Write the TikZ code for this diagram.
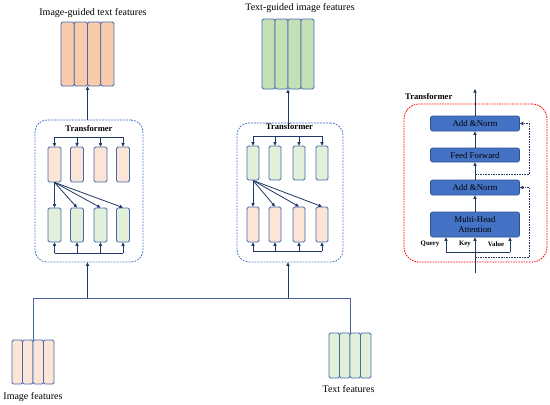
\documentclass[tikz,border=0pt]{standalone}
\usepackage{fontspec}
\setmainfont{Liberation Serif}
\usetikzlibrary{arrows.meta}
\definecolor{navy}{RGB}{32,56,100}
\definecolor{busc}{RGB}{70,95,150}
\definecolor{barline}{RGB}{70,105,175}
\definecolor{peachD}{HTML}{F8CBAD}
\definecolor{greenD}{HTML}{C5E0B4}
\definecolor{peachL}{HTML}{FBE5D6}
\definecolor{greenL}{HTML}{E2F0D9}
\definecolor{blk}{HTML}{4472C4}
\definecolor{blkline}{HTML}{2F528F}
\definecolor{tbox}{HTML}{4472C4}
\newcommand\ftitle{\fontsize{10}{12}\selectfont}
\newcommand\fblk{\fontsize{8.8}{10.5}\selectfont}
\newcommand\ftr{\fontsize{8.6}{10}\selectfont\bfseries}
\newcommand\fqkv{\fontsize{6.8}{8}\selectfont\bfseries}
\begin{document}
\begin{tikzpicture}[x=1pt,y=-1pt,
  bar/.style n args={2}{draw=barline, line width=0.8pt, rounded corners=1.5pt, inner sep=0pt, minimum width=#1, minimum height=#2},
  ln/.style={navy, line width=0.8pt},
  bus/.style={busc, line width=0.9pt},
  arr/.style={navy, line width=0.8pt, -{Triangle[length=3.5pt,width=3.2pt]}},
  darr/.style={navy, line width=0.8pt, dash pattern=on 1.6pt off 1pt, -{Triangle[length=3.5pt,width=3.2pt]}},
  tfbox/.style={draw=tbox, line width=0.8pt, dash pattern=on 1.8pt off 1.2pt, rounded corners=12pt, inner sep=0pt},
  redbox/.style={draw=red, line width=0.8pt, dash pattern=on 1.6pt off 1pt, rounded corners=15pt, inner sep=0pt},
  block/.style={fill=blk, draw=blkline, line width=0.6pt, rounded corners=2pt, minimum width=89pt, inner sep=0pt, font=\fblk, text=black, align=center},
  lab/.style={inner sep=0pt, font=\ftitle}
]
\useasboundingbox (0,0) rectangle (550,405);

% ---------- output features ----------
\node[lab] (tL) at (93,13) {Image-guided text features};
\node[lab] (tR) at (300,8) {Text-guided image features};
\foreach \i/\x in {1/67.6,2/80.9,3/94.1,4/107.4}
  \node[bar={13.25pt}{64pt}, fill=peachD] (oL\i) at (\x,54) {};
\foreach \i/\x in {1/268.5,2/281.5,3/294.5,4/307.5}
  \node[bar={13pt}{70pt}, fill=greenD] (oR\i) at (\x,54) {};

% ---------- left transformer ----------
\node[tfbox, minimum width=108pt, minimum height=142pt] (LT) at (89,191) {};
\node[inner sep=0pt, font=\ftr] (LTl) at (89,128.5) {Transformer};
\foreach \i/\x in {1/54.5,2/77,3/100.5,4/123}{
  \node[bar={13pt}{35pt}, fill=peachL] (lt\i) at (\x,164.5) {};
  \node[bar={13pt}{34pt}, fill=greenL] (lb\i) at (\x,225) {};
}
\coordinate (lbusT) at (87.5,137);
\coordinate (lbusB) at (87.5,253);
\coordinate (inL) at (87.5,298);
\draw[ln] (lt1.north |- lbusT) -- (lt4.north |- lbusT);
\foreach \i in {1,...,4} \draw[arr] (lt\i.north |- lbusT) -- (lt\i.north);
\draw[arr] (lbusT |- LT.north) -- (lbusT |- oL2.south);
\foreach \i in {1,...,4} \draw[arr] (lt1.south) -- (lb\i.north);
\draw[ln] (lb1.south |- lbusB) -- (lb4.south |- lbusB);
\foreach \i in {1,...,4} \draw[arr] (lb\i.south |- lbusB) -- (lb\i.south);
\draw[arr] (inL) -- (inL |- LT.south);

% ---------- right transformer ----------
\node[tfbox, minimum width=106pt, minimum height=139pt] (RTb) at (290,192.5) {};
\node[inner sep=0pt, font=\ftr] (RTl) at (289.5,127) {Transformer};
\foreach \i/\x in {1/253,2/275,3/299,4/322}{
  \node[bar={12pt}{34pt}, fill=greenL] (rt\i) at (\x,163) {};
  \node[bar={12pt}{35pt}, fill=peachL] (rb\i) at (\x,224.5) {};
}
\coordinate (rbusT) at (288,136);
\coordinate (rbusB) at (288,251);
\coordinate (inR) at (288,298);
\draw[ln] (rt1.north |- rbusT) -- (rt4.north |- rbusT);
\foreach \i in {1,...,4} \draw[arr] (rt\i.north |- rbusT) -- (rt\i.north);
\draw[arr] (rbusT |- RTb.north) -- (rbusT |- oR2.south);
\foreach \i in {1,...,4} \draw[arr] (rt1.south) -- (rb\i.north);
\draw[ln] (rb1.south |- rbusB) -- (rb4.south |- rbusB);
\foreach \i in {1,...,4} \draw[arr] (rb\i.south |- rbusB) -- (rb\i.south);
\draw[arr] (inR) -- (inR |- RTb.south);

% ---------- input features ----------
\foreach \i/\x in {1/17.25,2/27.75,3/38.25,4/48.75}
  \node[bar={10.5pt}{44pt}, fill=peachL] (im\i) at (\x,362) {};
\foreach \i/\x in {1/334.25,2/344.75,3/355.25,4/365.75}
  \node[bar={10.5pt}{45pt}, fill=greenL] (tx\i) at (\x,355.5) {};
\node[lab] (imt) at (33,397) {Image features};
\node[lab] (txt) at (348.5,389) {Text features};
\coordinate (busY) at (0,298);
\draw[bus] (im2.north east) -- (im2.north east |- busY) -- (tx2.north east |- busY) -- (tx2.north east);

% ---------- transformer detail ----------
\node[redbox, minimum width=143pt, minimum height=158pt] (RB) at (475.5,183) {};
\node[inner sep=0pt, font=\ftr, anchor=west] (RBl) at (405,97) {Transformer};
\node[block, minimum height=15pt] (an2) at (475,123.5) {Add \&Norm};
\node[block, minimum height=14pt] (ff) at (475,155) {Feed Forward};
\node[block, minimum height=15pt] (an1) at (475,187.5) {Add \&Norm};
\node[block, minimum height=25pt] (mha) at (475,224.5) {Multi-Head\\Attention};
\node[inner sep=0pt, font=\fqkv] (q) at (430,244) {Query};
\node[inner sep=0pt, font=\fqkv] (k) at (465,244) {Key};
\node[inner sep=0pt, font=\fqkv] (v) at (496,244) {Value};
\coordinate (inp) at (475,273);
\coordinate (outp) at (475,89);
\coordinate (qb) at (446,252);
\coordinate (vb) at (510,252);
\coordinate (rx) at (529.5,0);
\coordinate (r1) at (475,257);
\coordinate (r2) at (475,174);
\draw[arr] (inp) -- (mha.south);
\draw[ln] (qb) -- (vb);
\draw[arr] (qb) -- (qb |- mha.south);
\draw[arr] (vb) -- (vb |- mha.south);
\draw[arr] (mha.north) -- (an1.south);
\draw[arr] (an1.north) -- (ff.south);
\draw[arr] (ff.north) -- (an2.south);
\draw[arr] (an2.north) -- (outp);
\draw[darr] (r1) -- (r1 -| rx) |- (an1.east);
\draw[darr] (r2) -- (r2 -| rx) |- (an2.east);
\end{tikzpicture}
\end{document}
